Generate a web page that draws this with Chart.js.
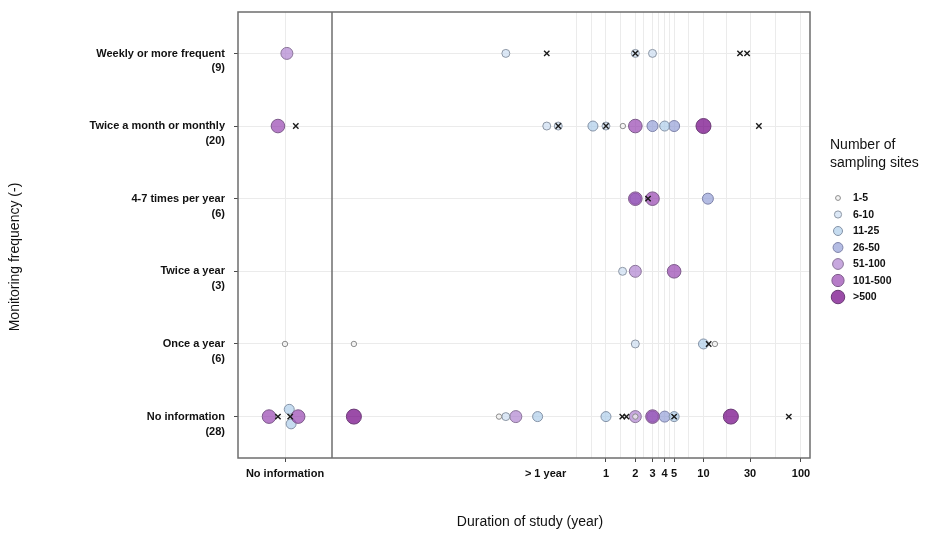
<!DOCTYPE html>
<html>
<head>
<meta charset="utf-8">
<script src="https://cdn.jsdelivr.net/npm/chart.js@4.4.1/dist/chart.umd.min.js"></script>
<style>
  html, body { margin: 0; padding: 0; background: #fff; }
  #wrap { width: 931px; height: 543px; }
</style>
</head>
<body>
<div id="wrap"><canvas id="studyChart" width="931" height="543"></canvas></div>
<script>
// rows, from bottom (0) to top (5)
var rowNames = ['No information', 'Once a year', 'Twice a year', '4-7 times per year', 'Twice a month or monthly', 'Weekly or more frequent'];
var rowCounts = [28, 6, 3, 6, 20, 9];

// number of sampling sites classes
var sizeClasses = ['1-5', '6-10', '11-25', '26-50', '51-100', '101-500', '>500'];
var sizeColors = ['rgba(241,241,241,0.7)', 'rgba(205,222,242,0.7)', 'rgba(174,205,234,0.7)', 'rgba(148,159,215,0.7)',
                  'rgba(175,131,208,0.7)', 'rgba(151,68,176,0.7)', 'rgba(112,0,131,0.7)'];
var sizeBorders = ['#8c8c8c', '#8d97a5', '#8492a6', '#7d82a8', '#8a7499', '#7c5a8a', '#6a3a75'];
var sizeRadius = [2.7, 4, 5, 5.5, 6, 6.8, 7.5];
// which class is drawn on top of which (first = top)
var drawOrder = [0, 5, 1, 2, 4, 3, 6];

// studies with a known duration (years)
var durYears = [0.094, 2, 3,
                0.247, 0.324, 0.735, 1, 1.49, 2, 3, 4, 5, 10,
                2, 2, 3, 11.1,
                1.48, 2, 5,
                0.0026, 2, 10, 13.1,
                0.0026, 0.080, 0.094, 0.119, 0.199, 1, 2, 2, 3, 3, 4, 5, 19.1];
var durRow = [5, 5, 5,
              4, 4, 4, 4, 4, 4, 4, 4, 4, 4,
              3, 3, 3, 3,
              2, 2, 2,
              1, 1, 1, 1,
              0, 0, 0, 0, 0, 0, 0, 0, 0, 0, 0, 0, 0];
var durSize = [1, 1, 1,
               1, 1, 2, 1, 0, 5, 3, 2, 3, 6,
               3, 5, 5, 3,
               1, 4, 5,
               0, 1, 2, 0,
               6, 0, 1, 4, 2, 2, 4, 0, 3, 5, 3, 2, 6];

// studies shown as a cross
var crossYears = [0.247, 2, 23.7, 28, 0.324, 1, 37, 2.7, 11.3, 1.47, 1.62, 5, 75];
var crossRow = [5, 5, 5, 5, 4, 4, 4, 3, 1, 0, 0, 0, 0];

// "No information" duration panel (x is the horizontal spread)
var noInfoX = [0.04, -0.15, 0, -0.34, 0.09, 0.13, 0.28];
var noInfoRow = [5, 4, 1, 0, 0.1, -0.1, 0];
var noInfoSize = [4, 5, 0, 5, 2, 2, 5];
var noInfoCrossX = [0.23, -0.15, 0.11];
var noInfoCrossRow = [4, 0, 0];

// duration axis
var durTickValues = [0.24, 1, 2, 3, 4, 5, 10, 30, 100];
var durTickLabels = ['> 1 year', '1', '2', '3', '4', '5', '10', '30', '100'];
var durMinorGrid = [0.5, 0.71, 1.41, 2.45, 3.46, 4.47, 7.07, 17.3, 54.8];

var FONT = '"Liberation Sans", Arial, sans-serif';
var GRID = '#ebebeb';
var DARK = '#4a4a4a';

function pts(xs, ys, sizes, k) {
    var out = [];
    for (var i = 0; i < xs.length; i++) {
        if (sizes === null || sizes[i] === k) out.push({ x: xs[i], y: ys[i] });
    }
    return out;
}

var datasets = [];
datasets.push({ label: 'cross', xAxisID: 'xDur', yAxisID: 'y', data: pts(crossYears, crossRow, null),
    pointStyle: 'crossRot', pointRadius: 3.8, borderColor: '#1a1a1a', borderWidth: 1.4 });
datasets.push({ label: 'cross', xAxisID: 'xNo', yAxisID: 'y', data: pts(noInfoCrossX, noInfoCrossRow, null),
    pointStyle: 'crossRot', pointRadius: 3.8, borderColor: '#1a1a1a', borderWidth: 1.4 });
drawOrder.forEach(function (k) {
    datasets.push({ label: sizeClasses[k], xAxisID: 'xDur', yAxisID: 'y', data: pts(durYears, durRow, durSize, k),
        backgroundColor: sizeColors[k], borderColor: sizeBorders[k], borderWidth: 1, pointRadius: sizeRadius[k] });
    datasets.push({ label: sizeClasses[k], xAxisID: 'xNo', yAxisID: 'y', data: pts(noInfoX, noInfoRow, noInfoSize, k),
        backgroundColor: sizeColors[k], borderColor: sizeBorders[k], borderWidth: 1, pointRadius: sizeRadius[k] });
});

var framePlugin = {
    id: 'frame',
    beforeDatasetsDraw: function (chart) {
        var a = chart.chartArea, ctx = chart.ctx;
        var divider = chart.scales.xDur.left;
        ctx.save();
        ctx.strokeStyle = '#6e6e6e';
        ctx.lineWidth = 1.5;
        ctx.strokeRect(a.left, a.top, a.right - a.left, a.bottom - a.top);
        ctx.beginPath();
        ctx.moveTo(divider, a.top);
        ctx.lineTo(divider, a.bottom);
        ctx.stroke();
        ctx.restore();
    }
};

var textPlugin = {
    id: 'texts',
    afterDraw: function (chart) {
        var ctx = chart.ctx;
        ctx.save();
        ctx.fillStyle = '#111';
        ctx.font = '14px ' + FONT;
        ctx.textAlign = 'center';
        ctx.textBaseline = 'middle';
        ctx.fillText('Duration of study (year)', 530, 522);
        ctx.save();
        ctx.translate(15, 257);
        ctx.rotate(-Math.PI / 2);
        ctx.fillText('Monitoring frequency (-)', 0, 0);
        ctx.restore();

        // legend
        ctx.textAlign = 'left';
        ctx.fillText('Number of', 830, 145);
        ctx.fillText('sampling sites', 830, 163);
        ctx.font = 'bold 10.5px ' + FONT;
        for (var i = 0; i < sizeClasses.length; i++) {
            var y = 198 + i * 16.5;
            ctx.beginPath();
            ctx.arc(838, y, sizeRadius[i] * 0.9, 0, Math.PI * 2);
            ctx.fillStyle = sizeColors[i];
            ctx.fill();
            ctx.lineWidth = 1;
            ctx.strokeStyle = sizeBorders[i];
            ctx.stroke();
            ctx.fillStyle = '#111';
            ctx.fillText(sizeClasses[i], 853, y + 0.5);
        }
        ctx.restore();
    }
};

var tickFont = { family: FONT, size: 11, weight: 'bold', lineHeight: 1.35 };

var ctx = document.getElementById('studyChart').getContext('2d');
var studyChart = new Chart(ctx, {
    type: 'scatter',
    data: { datasets: datasets },
    options: {
        responsive: false,
        animation: false,
        layout: { padding: { top: 12, right: 121, left: 0, bottom: 0 } },
        plugins: { legend: { display: false }, tooltip: { enabled: false } },
        scales: {
            y: {
                type: 'linear',
                position: 'left',
                min: -0.57,
                max: 5.57,
                afterBuildTicks: function (s) {
                    s.ticks = [0, 1, 2, 3, 4, 5].map(function (v) { return { value: v }; });
                },
                afterFit: function (s) { s.width = 238; s.paddingTop = 0; s.paddingBottom = 0; },
                border: { display: false },
                grid: { color: GRID, tickColor: DARK, tickLength: 4 },
                ticks: {
                    font: tickFont, color: '#111', padding: 9, labelOffset: 7.5,
                    callback: function (v) { return [rowNames[v], '(' + rowCounts[v] + ')']; }
                }
            },
            xNo: {
                type: 'linear',
                position: 'bottom',
                stack: 'dur',
                stackWeight: 94,
                min: -1,
                max: 1,
                afterBuildTicks: function (s) { s.ticks = [{ value: 0 }]; },
                afterFit: function (s) { s.height = 85; s.paddingLeft = 0; s.paddingRight = 0; },
                border: { display: false },
                grid: { color: GRID, tickColor: DARK, tickLength: 4 },
                ticks: {
                    font: { family: FONT, size: 11, weight: 'bold' }, color: '#111', padding: 5,
                    autoSkip: false, maxRotation: 0,
                    callback: function () { return 'No information'; }
                }
            },
            xDur: {
                type: 'logarithmic',
                position: 'bottom',
                stack: 'dur',
                stackWeight: 478,
                min: 0.00155,
                max: 123.7,
                afterBuildTicks: function (s) {
                    var vals = durTickValues.concat(durMinorGrid).sort(function (a, b) { return a - b; });
                    s.ticks = vals.map(function (v) { return { value: v }; });
                },
                afterFit: function (s) { s.height = 85; s.paddingLeft = 0; s.paddingRight = 0; },
                border: { display: false },
                grid: {
                    tickLength: 4,
                    color: function (c) {
                        return (c.tick && c.tick.value === durTickValues[0]) ? 'rgba(0,0,0,0)' : GRID;
                    },
                    tickColor: function (c) {
                        if (!c.tick) return 'rgba(0,0,0,0)';
                        var i = durTickValues.indexOf(c.tick.value);
                        return i > 0 ? DARK : 'rgba(0,0,0,0)';
                    }
                },
                ticks: {
                    font: { family: FONT, size: 11, weight: 'bold' }, color: '#111', padding: 5,
                    autoSkip: false, maxRotation: 0,
                    callback: function (v) {
                        var i = durTickValues.indexOf(v);
                        return i >= 0 ? durTickLabels[i] : '';
                    }
                }
            }
        }
    },
    plugins: [framePlugin, textPlugin]
});
</script>
</body>
</html>
